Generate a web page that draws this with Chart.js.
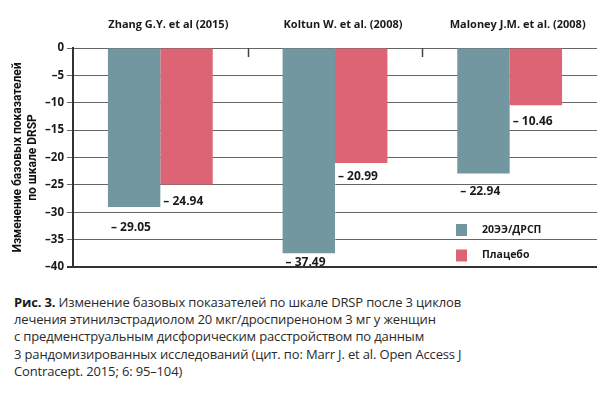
<!DOCTYPE html>
<html>
<head>
<meta charset="utf-8">
<script src="https://cdn.jsdelivr.net/npm/chart.js@4.4.1/dist/chart.umd.min.js"></script>
<style>
body { margin: 0; background: #fff; width: 611px; height: 402px; overflow: hidden; position: relative; }
#wrap { position: absolute; left: 0; top: 0; width: 611px; height: 285px; }
#caption { position: absolute; left: 14px; top: 294px; font-family: "Open Sans", Roboto, sans-serif; font-size: 13px; letter-spacing: -0.15px; line-height: 17.2px; color: #2a2a2a; white-space: nowrap; }
#caption b { color: #1a1a1a; }
</style>
</head>
<body>
<div id="wrap"><canvas id="chart" width="611" height="285"></canvas></div>
<div id="caption"><b>Рис. 3.</b> Изменение базовых показателей по шкале DRSP после 3 циклов<br>лечения этинилэстрадиолом 20 мкг/дроспиреноном 3 мг у женщин<br>с предменструальным дисфорическим расстройством по данным<br>3 рандомизированных исследований (цит. по: Marr J. et al. Open Access J<br>Contracept. 2015; 6: 95–104)</div>
<script>
var categories = ['Zhang G.Y. et al (2015)', 'Koltun W. et al. (2008)', 'Maloney J.M. et al. (2008)'];
var seriesNames = ['20ЭЭ/ДРСП', 'Плацебо'];
var eeValues = [-29.05, -37.49, -22.94];
var placeboValues = [-24.94, -20.99, -10.46];
var yTicks = [-40, -35, -30, -25, -20, -15, -10, -5, 0];
var yTitle = ['Изменение базовых показателей', 'по шкале DRSP'];

var tealColor = 'rgb(114, 151, 161)';
var pinkColor = 'rgb(221, 100, 117)';
var chartFont = '"Open Sans", "Noto Sans", sans-serif';

// gap under each bar end to the middle of its value text
var labelGap = [[21, 9, 18], [17, 14, 16]];

function dashNum(v) {
    return v < 0 ? '– ' + Math.abs(v).toFixed(2) : v.toFixed(2);
}

var valueLabels = {
    id: 'valueLabels',
    afterDatasetsDraw: function(chart) {
        var ctx = chart.ctx;
        ctx.save();
        ctx.font = 'bold 12px ' + chartFont;
        ctx.fillStyle = '#1a1a1a';
        ctx.textAlign = 'left';
        ctx.textBaseline = 'middle';
        chart.data.datasets.forEach(function(ds, d) {
            chart.getDatasetMeta(d).data.forEach(function(bar, i) {
                var left = bar.x - bar.width / 2;
                ctx.fillText(dashNum(ds.data[i]), left + 3, bar.y + labelGap[d][i]);
            });
        });
        ctx.restore();
    }
};

// short marks under the zero line between the studies
var boundaryTicks = {
    id: 'boundaryTicks',
    afterDatasetsDraw: function(chart) {
        var ctx = chart.ctx;
        var xs = chart.scales.x;
        var top = chart.chartArea.top;
        ctx.save();
        ctx.strokeStyle = '#444';
        ctx.lineWidth = 1.5;
        for (var i = 0; i < categories.length - 1; i++) {
            var x = Math.round((xs.getPixelForValue(i) + xs.getPixelForValue(i + 1)) / 2) + 0.5;
            ctx.beginPath();
            ctx.moveTo(x, top);
            ctx.lineTo(x, top + 9);
            ctx.stroke();
        }
        ctx.restore();
    }
};

var boxLegend = {
    id: 'boxLegend',
    afterDraw: function(chart) {
        var ctx = chart.ctx;
        var area = chart.chartArea;
        var x = area.right - 141;
        var y = area.top + 176;
        ctx.save();
        ctx.font = 'bold 10.5px ' + chartFont;
        ctx.textAlign = 'left';
        ctx.textBaseline = 'middle';
        chart.data.datasets.forEach(function(ds, d) {
            var yy = y + d * 25.5;
            ctx.fillStyle = ds.backgroundColor;
            ctx.fillRect(x, yy, 11, 12);
            ctx.fillStyle = '#1a1a1a';
            ctx.fillText(ds.label, x + 26, yy + 6);
        });
        ctx.restore();
    }
};

var data = {
    labels: categories,
    datasets: [{
        label: seriesNames[0],
        data: eeValues,
        backgroundColor: tealColor
    }, {
        label: seriesNames[1],
        data: placeboValues,
        backgroundColor: pinkColor
    }]
};

var config = {
    type: 'bar',
    data: data,
    options: {
        responsive: false,
        animation: false,
        layout: { padding: { left: 0, right: 14, top: 0, bottom: 18 } },
        datasets: { bar: { categoryPercentage: 0.6, barPercentage: 1.0 } },
        plugins: {
            legend: { display: false },
            tooltip: { enabled: false }
        },
        scales: {
            x: {
                position: 'top',
                grid: { display: false, drawTicks: false },
                border: { display: false },
                ticks: {
                    font: { family: chartFont, size: 11, weight: 'bold' },
                    color: '#1a1a1a',
                    padding: 17,
                    labelOffset: 8,
                    maxRotation: 0
                },
                afterFit: function(s) { s.height = 48; }
            },
            y: {
                min: -40,
                max: 0,
                afterBuildTicks: function(s) {
                    s.ticks = yTicks.map(function(v) { return { value: v }; });
                },
                afterFit: function(s) { s.width = 73; },
                border: { color: '#333', width: 2 },
                grid: {
                    color: function(c) { return c.tick && c.tick.value === -40 ? '#333' : '#666'; },
                    lineWidth: function(c) { return c.tick && c.tick.value === -40 ? 2 : 1; },
                    tickLength: 6
                },
                ticks: {
                    font: { family: chartFont, size: 11.5, weight: 'bold' },
                    color: '#1a1a1a',
                    padding: 3,
                    callback: function(v) { return v < 0 ? '–' + Math.abs(v) : String(v); }
                },
                title: {
                    display: true,
                    text: yTitle,
                    font: { family: 'Roboto, ' + chartFont, size: 12, weight: 'bold' },
                    color: '#111',
                    padding: { top: 11, bottom: 0 }
                }
            }
        }
    },
    plugins: [valueLabels, boundaryTicks, boxLegend]
};

var chart = new Chart(document.getElementById('chart'), config);
</script>
</body>
</html>
